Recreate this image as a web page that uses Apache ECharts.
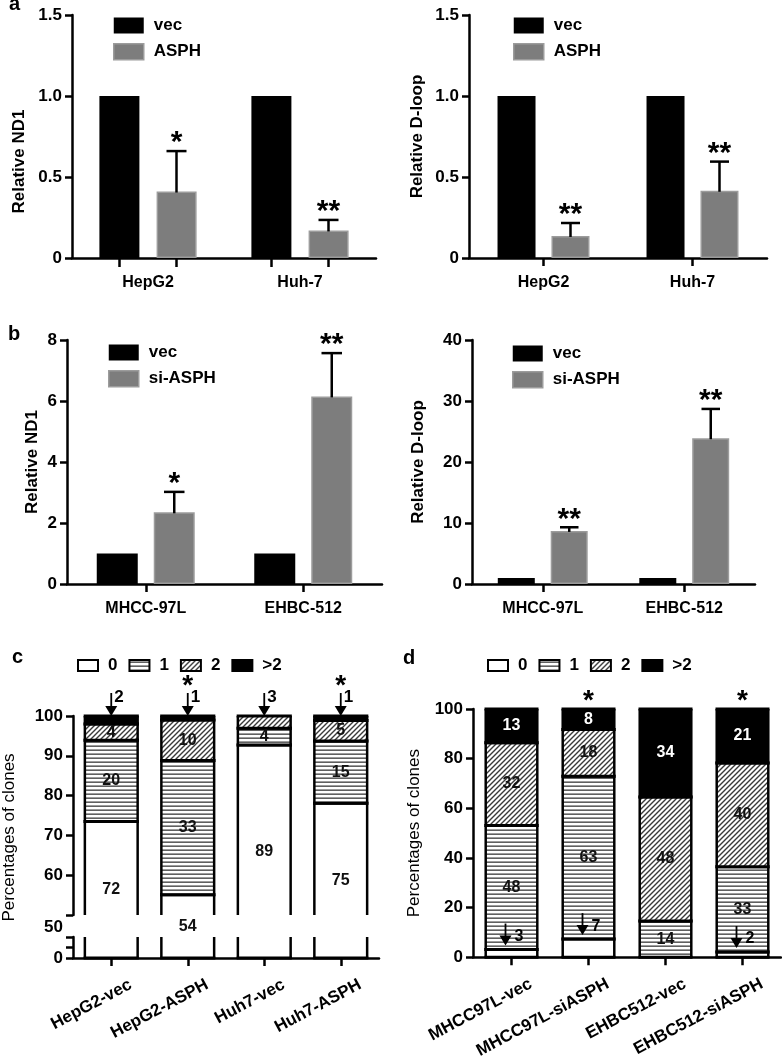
<!DOCTYPE html>
<html><head><meta charset="utf-8">
<script src="https://cdn.jsdelivr.net/npm/echarts@6/dist/echarts.min.js"></script>
<style>html,body{margin:0;padding:0;background:#fff}#chart{width:782px;height:1061px}</style>
</head><body><div id="chart"></div>
<script>
// ---------- DATA ----------
// Panel a
const aCats = ['HepG2', 'Huh-7'];
const aNd1Vec = [1.0, 1.0];
const aNd1Asph = [0.41, 0.17];
const aNd1AsphSd = [0.25, 0.065];
const aNd1Sig = ['*', '**'];
const aDlVec = [1.0, 1.0];
const aDlAsph = [0.136, 0.415];
const aDlAsphSd = [0.08, 0.18];
const aDlSig = ['**', '**'];
// Panel b
const bCats = ['MHCC-97L', 'EHBC-512'];
const bNd1Vec = [1.0, 1.0];
const bNd1Si = [2.35, 6.15];
const bNd1SiSd = [0.67, 1.42];
const bNd1Sig = ['*', '**'];
const bDlVec = [1.0, 1.0];
const bDlSi = [8.7, 23.9];
const bDlSiSd = [0.6, 4.8];
const bDlSig = ['**', '**'];
// Panel c  (percentages of clones per copy-number class; counts shown as labels)
const cCats = ['HepG2-vec', 'HepG2-ASPH', 'Huh7-vec', 'Huh7-ASPH'];
const cPct0 = [73.5, 55.1, 92.7, 78.1];
const cPct1 = [20.4, 33.7, 4.2, 15.6];
const cPct2 = [4.1, 10.2, 3.1, 5.2];
const cPct3 = [2.0, 1.0, 0.0, 1.1];
const cCnt0 = [72, 54, 89, 75];
const cCnt1 = [20, 33, 4, 15];
const cCnt2 = [4, 10, 3, 5];
const cCnt3 = [2, 1, 0, 1];
const cSig = ['', '*', '', '*'];
const cArrowLevel = [3, 3, 2, 3];   // which class is annotated with an arrow above the bar
// Panel d
const dCats = ['MHCC97L-vec', 'MHCC97L-siASPH', 'EHBC512-vec', 'EHBC512-siASPH'];
const dPct0 = [3.1, 7.3, 0.0, 2.1];
const dPct1 = [50.0, 65.6, 14.6, 34.4];
const dPct2 = [33.3, 18.8, 50.0, 41.7];
const dPct3 = [13.6, 8.3, 35.4, 21.8];
const dCnt0 = [3, 7, 0, 2];
const dCnt1 = [48, 63, 14, 33];
const dCnt2 = [32, 18, 48, 40];
const dCnt3 = [13, 8, 34, 21];
const dSig = ['', '*', '', '*'];
const dArrowLevel = [0, 0, -1, 0];  // class annotated with an arrow inside the bar
const classNames = ['0', '1', '2', '>2'];

// ---------- STYLE HELPERS ----------
const FONT = '"Liberation Sans", Arial, sans-serif';
const BLACK = '#000';
const GRAY = '#7d7d7d';
const GRAY_BORDER = '#9c9c9c';

function stripeCanvas() {
  const c = document.createElement('canvas'); c.width = 8; c.height = 4;
  const g = c.getContext('2d');
  g.fillStyle = '#fff'; g.fillRect(0, 0, 8, 4);
  g.fillStyle = '#3a3a3a'; g.fillRect(0, 1.5, 8, 1.3);
  return c;
}
function hatchCanvas() {
  const s = 5;
  const c = document.createElement('canvas'); c.width = s; c.height = s;
  const g = c.getContext('2d');
  g.fillStyle = '#fff'; g.fillRect(0, 0, s, s);
  g.strokeStyle = '#3a3a3a'; g.lineWidth = 1.4;
  g.beginPath();
  g.moveTo(-1, s + 1); g.lineTo(s + 1, -1);
  g.moveTo(-1, 1); g.lineTo(1, -1);
  g.moveTo(s - 1, s + 1); g.lineTo(s + 1, s - 1);
  g.stroke();
  return c;
}
const classFills = ['#fff', { image: stripeCanvas(), repeat: 'repeat' }, { image: hatchCanvas(), repeat: 'repeat' }, '#000'];

const axisLineStyle = { show: true, lineStyle: { color: BLACK, width: 2.5 } };
const axisTickStyle = { show: true, length: 7, lineStyle: { color: BLACK, width: 2.5 } };
const tickLabel = { color: BLACK, fontFamily: FONT, fontWeight: 'bold', fontSize: 17, margin: 10 };

// ---------- GRIDS ----------
const grids = [
  { left: 72, top: 15, width: 304, height: 243 },   // 0 a-left
  { left: 469, top: 15, width: 298, height: 243 },  // 1 a-right
  { left: 67, top: 340, width: 315, height: 244 },  // 2 b-left
  { left: 472, top: 340, width: 283, height: 244 }, // 3 b-right
  { left: 73, top: 716, width: 306, height: 199 },  // 4 c-upper (50-100)
  { left: 73, top: 937, width: 306, height: 21 },   // 5 c-lower (0-50)
  { left: 473, top: 709, width: 308, height: 250 }  // 6 d
];

function catAxis(gridIndex, cats, opts) {
  return Object.assign({
    type: 'category', gridIndex, data: cats,
    axisLine: axisLineStyle,
    axisTick: Object.assign({}, axisTickStyle, { alignWithLabel: true, length: 8 }),
    axisLabel: Object.assign({}, tickLabel, { fontSize: 16, margin: 17 })
  }, opts || {});
}
function valAxis(gridIndex, min, max, interval, opts) {
  return Object.assign({
    type: 'value', gridIndex, min, max, interval,
    splitLine: { show: false },
    axisLine: axisLineStyle,
    axisTick: axisTickStyle,
    axisLabel: Object.assign({}, tickLabel),
    nameLocation: 'middle',
    nameTextStyle: { color: BLACK, fontFamily: FONT, fontWeight: 'bold', fontSize: 17 }
  }, opts || {});
}

const rotLabel = Object.assign({}, tickLabel, { fontSize: 17, rotate: 28, align: 'right', margin: 36, padding: [0, -22, 0, 0] });

const xAxes = [
  catAxis(0, aCats, { axisTick: { show: false } }),
  catAxis(1, aCats),
  catAxis(2, bCats),
  catAxis(3, bCats),
  catAxis(4, cCats, { show: false }),
  catAxis(5, cCats, { axisLabel: rotLabel }),
  catAxis(6, dCats, { axisLabel: rotLabel })
];
const fmt1 = v => v === 0 ? '0' : v.toFixed(1);
const yAxes = [
  valAxis(0, 0, 1.5, 0.5, { name: 'Relative ND1', nameGap: 44, axisLabel: Object.assign({}, tickLabel, { formatter: fmt1 }),
    nameTextStyle: { color: BLACK, fontFamily: FONT, fontWeight: 'bold', fontSize: 17, padding: [0, 50, 0, 0] } }),
  valAxis(1, 0, 1.5, 0.5, { name: 'Relative D-loop', nameGap: 43, axisLabel: Object.assign({}, tickLabel, { formatter: fmt1 }) }),
  valAxis(2, 0, 8, 2, { name: 'Relative ND1', nameGap: 26 }),
  valAxis(3, 0, 40, 10, { name: 'Relative D-loop', nameGap: 45 }),
  valAxis(4, 50, 100, 10, {
    axisLabel: Object.assign({}, tickLabel, {
      formatter: v => v === 50 ? '{s|50}' : String(v),
      rich: { s: { fontFamily: FONT, fontWeight: 'bold', fontSize: 17, color: BLACK, padding: [24, 0, 0, 0] } }
    })
  }),
  valAxis(5, 0, 50, 25, { axisLabel: Object.assign({}, tickLabel, { formatter: v => v === 0 ? '0' : '' }),
    name: 'Percentages of clones', nameGap: 55,
    nameTextStyle: { color: BLACK, fontFamily: FONT, fontWeight: 'normal', fontSize: 17, padding: [0, 0, 0, 220] } }),
  valAxis(6, 0, 100, 20, { name: 'Percentages of clones', nameGap: 50,
    nameTextStyle: { color: BLACK, fontFamily: FONT, fontWeight: 'normal', fontSize: 17 } })
];

// ---------- SERIES ----------
const series = [];
function barPair(axisIdx, name2, vecVals, secVals, sdVals, sig, bw, gapPx) {
  const gapPct = Math.round(gapPx / bw * 100) + '%';
  series.push({ type: 'bar', name: 'vec', xAxisIndex: axisIdx, yAxisIndex: axisIdx, data: vecVals,
    barWidth: bw, barGap: gapPct, itemStyle: { color: BLACK }, silent: true });
  series.push({ type: 'bar', name: name2, xAxisIndex: axisIdx, yAxisIndex: axisIdx, data: secVals,
    barWidth: bw, barGap: gapPct, itemStyle: { color: GRAY, borderColor: GRAY_BORDER, borderWidth: 1.5 }, silent: true });
  const off = (bw + gapPx) / 2;
  series.push({
    type: 'custom', name: 'err' + axisIdx, xAxisIndex: axisIdx, yAxisIndex: axisIdx, silent: true, z: 5,
    data: secVals.map((v, i) => [i, v, v + sdVals[i]]),
    renderItem: (params, api) => {
      const i = api.value(0);
      const pb = api.coord([i, api.value(1)]);
      const pt = api.coord([i, api.value(2)]);
      const x = pb[0] + off;
      const cap = bw / 2;
      return { type: 'group', children: [
        { type: 'line', shape: { x1: x, y1: pb[1] + 1, x2: x, y2: pt[1] }, style: { stroke: BLACK, lineWidth: 2.5 } },
        { type: 'line', shape: { x1: x - cap / 2, y1: pt[1], x2: x + cap / 2, y2: pt[1] }, style: { stroke: BLACK, lineWidth: 2.5 } },
        { type: 'text', style: { x: x, y: pt[1] + 7, text: sig[i], fill: BLACK, font: 'bold 30px ' + FONT, textAlign: 'center', textVerticalAlign: 'bottom' } }
      ] };
    }
  });
  return off;
}
const offA0 = barPair(0, 'ASPH', aNd1Vec, aNd1Asph, aNd1AsphSd, aNd1Sig, 40, 17);
barPair(1, 'ASPH', aDlVec, aDlAsph, aDlAsphSd, aDlSig, 38, 16);
barPair(2, 'si-ASPH', bNd1Vec, bNd1Si, bNd1SiSd, bNd1Sig, 41, 16);
barPair(3, 'si-ASPH', bDlVec, bDlSi, bDlSiSd, bDlSig, 37, 16);
// ticks under each bar (panel a, left graph)
series.push({
  type: 'custom', name: 'ticksA', xAxisIndex: 0, yAxisIndex: 0, silent: true,
  data: aCats.map((c, i) => [i, 0]),
  renderItem: (params, api) => {
    const p = api.coord([api.value(0), 0]);
    return { type: 'group', children: [-1, 1].map(s => ({
      type: 'line', shape: { x1: p[0] + s * offA0, y1: p[1], x2: p[0] + s * offA0, y2: p[1] + 9 },
      style: { stroke: BLACK, lineWidth: 2.5 } })) };
  }
});

// stacked segments (custom so that the axis break shows open bar ends)
function stackSeries(axisIdx, pctLists, yMin, yMax, ratio) {
  pctLists.forEach((list, level) => {
    const data = list.map((v, i) => {
      let lo = 0; for (let k = 0; k < level; k++) lo += pctLists[k][i];
      return [i, lo, lo + v];
    });
    series.push({
      type: 'custom', name: classNames[level], xAxisIndex: axisIdx, yAxisIndex: axisIdx, silent: true,
      itemStyle: { color: classFills[level], borderColor: BLACK, borderWidth: 2 },
      data, z: 2 + level,
      renderItem: (params, api) => {
        const i = api.value(0), lo = api.value(1), hi = api.value(2);
        if (hi - lo <= 0) return null;
        const clo = Math.max(lo, yMin), chi = Math.min(hi, yMax);
        if (chi <= clo) return null;
        const pb = api.coord([i, clo]), pt = api.coord([i, chi]);
        const w = api.size([1, 0])[0] * ratio;
        const x0 = pb[0] - w / 2, x1 = pb[0] + w / 2;
        const ls = { stroke: BLACK, lineWidth: 2.5 };
        const ch = [
          { type: 'rect', shape: { x: x0, y: pt[1], width: w, height: pb[1] - pt[1] }, style: { fill: classFills[level] } },
          { type: 'line', shape: { x1: x0, y1: pt[1], x2: x0, y2: pb[1] }, style: ls },
          { type: 'line', shape: { x1: x1, y1: pt[1], x2: x1, y2: pb[1] }, style: ls }
        ];
        if (hi <= yMax + 1e-9) ch.push({ type: 'line', shape: { x1: x0 - 1.2, y1: pt[1], x2: x1 + 1.2, y2: pt[1] }, style: { stroke: BLACK, lineWidth: 3 } });
        if (lo >= yMin - 1e-9) ch.push({ type: 'line', shape: { x1: x0 - 1.2, y1: pb[1], x2: x1 + 1.2, y2: pb[1] }, style: { stroke: BLACK, lineWidth: 3 } });
        return { type: 'group', children: ch };
      }
    });
  });
}
const cPct = [cPct0, cPct1, cPct2, cPct3];
const dPct = [dPct0, dPct1, dPct2, dPct3];
stackSeries(4, cPct, 50, 100, 0.69);
stackSeries(5, cPct, 0, 50, 0.69);
stackSeries(6, dPct, 0, 100, 0.67);

// ---------- LEGENDS ----------
const legText = { color: BLACK, fontFamily: FONT, fontWeight: 'bold', fontSize: 17, padding: [0, 0, 0, 5] };
function pairLegend(left, top, name2) {
  return { orient: 'vertical', left, top, itemWidth: 30, itemHeight: 16, itemGap: 9, selectedMode: false,
    icon: 'rect', textStyle: legText,
    data: [{ name: 'vec', itemStyle: { color: BLACK, borderWidth: 0 } },
           { name: name2, itemStyle: { color: GRAY, borderColor: GRAY_BORDER, borderWidth: 1.5 } }] };
}
function classLegend(left, top) {
  return { orient: 'horizontal', left, top, itemWidth: 20, itemHeight: 11, itemGap: 11, selectedMode: false,
    icon: 'rect', textStyle: legText,
    data: classNames.map((n, k) => ({ name: n, itemStyle: { color: classFills[k], borderColor: BLACK, borderWidth: 2 } })) };
}
const legends = [
  pairLegend(108, 12, 'ASPH'), pairLegend(508, 12, 'ASPH'),
  pairLegend(103, 339, 'si-ASPH'), pairLegend(507, 340, 'si-ASPH'),
  classLegend(72, 652), classLegend(482, 652)
];

const panelLetter = (t, x, y) => ({ type: 'text', x, y, style: { text: t, font: 'bold 20px ' + FONT, fill: BLACK, textVerticalAlign: 'middle' } });

const chart = echarts.init(document.getElementById('chart'), null, { renderer: 'canvas' });
chart.setOption({
  animation: false,
  backgroundColor: '#fff',
  grid: grids, xAxis: xAxes, yAxis: yAxes, legend: legends, series
});

// ---------- second pass: count labels, arrows and stars for c and d ----------
const extra = [];
function txt(x, y, t, color, align, size) {
  extra.push({ type: 'text', x, y, z: 100, style: { text: String(t), fill: color || '#111', font: 'bold ' + (size || 16) + 'px ' + FONT,
    textAlign: align || 'center', textVerticalAlign: 'middle' } });
}
function arrow(x, yTip, len) {
  extra.push({ type: 'line', z: 100, shape: { x1: x, y1: yTip - len, x2: x, y2: yTip - 8 }, style: { stroke: BLACK, lineWidth: 1.8 } });
  extra.push({ type: 'polygon', z: 100, shape: { points: [[x - 6, yTip - 10], [x + 6, yTip - 10], [x, yTip]] }, style: { fill: BLACK } });
}
const cCnt = [cCnt0, cCnt1, cCnt2, cCnt3];
const dCnt = [dCnt0, dCnt1, dCnt2, dCnt3];
cCats.forEach((cat, i) => {
  let lo = 0;
  for (let k = 0; k < 4; k++) {
    const hi = lo + cPct[k][i];
    const x = chart.convertToPixel({ gridIndex: 4 }, [i, 100])[0];
    if (k === cArrowLevel[i]) {
      const yTop = chart.convertToPixel({ gridIndex: 4 }, [i, 100])[1];
      arrow(x, yTop, 23);
      txt(x + 3, yTop - 19, cCnt[k][i], BLACK, 'left', 17);
    } else if (cCnt[k][i] > 0) {
      let y;
      if (k === 0) {
        const y0 = chart.convertToPixel({ gridIndex: 5 }, [i, 0])[1];
        const yh = chart.convertToPixel({ gridIndex: 4 }, [i, hi])[1];
        y = (y0 + yh) / 2;
      } else {
        y = chart.convertToPixel({ gridIndex: 4 }, [i, (lo + hi) / 2])[1];
      }
      txt(x, y, cCnt[k][i], '#111');
    }
    lo = hi;
  }
  if (cSig[i]) {
    const p = chart.convertToPixel({ gridIndex: 4 }, [i, 100]);
    txt(p[0], p[1] - 30, cSig[i], BLACK, 'center', 28);
  }
});
dCats.forEach((cat, i) => {
  let lo = 0;
  for (let k = 0; k < 4; k++) {
    const hi = lo + dPct[k][i];
    const x = chart.convertToPixel({ gridIndex: 6 }, [i, 0])[0];
    if (k === dArrowLevel[i]) {
      const yTop = chart.convertToPixel({ gridIndex: 6 }, [i, hi])[1];
      arrow(x - 6, yTop - 4, 22);
      txt(x + 3, yTop - 13, dCnt[k][i], BLACK, 'left', 16);
    } else if (dCnt[k][i] > 0) {
      const y = chart.convertToPixel({ gridIndex: 6 }, [i, (lo + hi) / 2])[1];
      txt(x, y, dCnt[k][i], k === 3 ? '#fff' : '#111');
    }
    lo = hi;
  }
  if (dSig[i]) {
    const p = chart.convertToPixel({ gridIndex: 6 }, [i, 100]);
    txt(p[0], p[1] - 8, dSig[i], BLACK, 'center', 28);
  }
});
chart.setOption({ graphic: [panelLetter('a', 9, 4), panelLetter('b', 8, 334), panelLetter('c', 12, 657), panelLetter('d', 403, 658)].concat(extra) });
</script>
</body></html>
